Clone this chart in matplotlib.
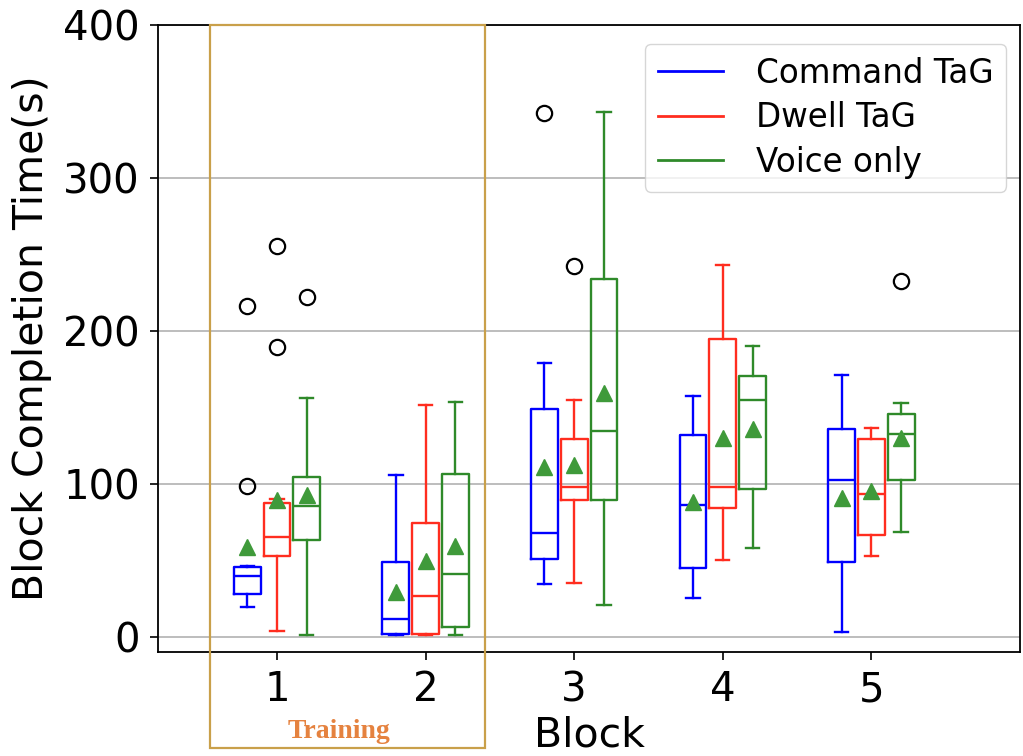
import matplotlib.pyplot as plt
from matplotlib.lines import Line2D
from matplotlib.patches import Rectangle
from matplotlib.transforms import blended_transform_factory

blocks = [1, 2, 3, 4, 5]
methods = ['Command TaG', 'Dwell TaG', 'Voice only']
colors = ['#0000ff', '#ff2d1f', '#2f8a2a']

# box stats per block: whisker low, q1, median, q3, whisker high, mean
cmd_lo = [19.7, 1.1, 34.2, 25.0, 3.2]
cmd_q1 = [27.8, 1.5, 50.6, 44.6, 48.7]
cmd_med = [39.4, 11.6, 67.9, 86.3, 102.4]
cmd_q3 = [45.5, 48.6, 148.8, 131.7, 135.5]
cmd_hi = [46.0, 105.5, 178.7, 157.2, 171.1]
cmd_mean = [58.6, 28.9, 111.2, 88.0, 90.8]
cmd_fliers = [[98.7, 216.0], [], [342.7], [], []]

dwell_lo = [3.4, 1.1, 34.8, 50.2, 52.7]
dwell_q1 = [52.5, 1.5, 89.4, 84.1, 66.2]
dwell_med = [64.9, 26.3, 97.8, 97.8, 93.5]
dwell_q3 = [87.4, 74.4, 129.2, 194.8, 129.0]
dwell_hi = [90.0, 151.4, 154.6, 243.0, 136.2]
dwell_mean = [89.5, 49.2, 112.4, 130.0, 95.2]
dwell_fliers = [[189.2, 255.3], [], [242.7], [], []]

voice_lo = [1.2, 1.1, 20.7, 58.3, 68.4]
voice_q1 = [62.9, 6.6, 89.4, 96.3, 102.4]
voice_med = [85.2, 41.1, 134.2, 154.6, 132.7]
voice_q3 = [104.1, 106.6, 234.2, 170.7, 145.4]
voice_hi = [155.8, 153.2, 343.4, 189.8, 152.8]
voice_mean = [92.6, 59.0, 159.1, 136.1, 129.7]
voice_fliers = [[222.1], [], [], [], [232.6]]

all_stats = [
    (cmd_lo, cmd_q1, cmd_med, cmd_q3, cmd_hi, cmd_mean, cmd_fliers),
    (dwell_lo, dwell_q1, dwell_med, dwell_q3, dwell_hi, dwell_mean, dwell_fliers),
    (voice_lo, voice_q1, voice_med, voice_q3, voice_hi, voice_mean, voice_fliers),
]
offsets = [-0.2, 0.0, 0.2]

fig = plt.figure(figsize=(10.23, 7.56), dpi=100)
ax = fig.add_axes([0.1545, 0.1376, 0.8426, 0.8294])

for (lo, q1, med, q3, hi, mean, fl), off, c in zip(all_stats, offsets, colors):
    stats = []
    for i in range(len(blocks)):
        stats.append(dict(whislo=lo[i], q1=q1[i], med=med[i], q3=q3[i],
                          whishi=hi[i], mean=mean[i], fliers=fl[i]))
    lp = dict(color=c, linewidth=1.7)
    ax.bxp(stats, positions=[b + off for b in blocks], widths=0.18,
           showmeans=True, boxprops=lp, whiskerprops=lp, capprops=lp,
           medianprops=lp,
           meanprops=dict(marker='^', markerfacecolor='#3f9a3a',
                          markeredgecolor='#3f9a3a', markersize=11),
           flierprops=dict(marker='o', markerfacecolor='none',
                           markeredgecolor='black', markersize=11,
                           markeredgewidth=1.6),
           manage_ticks=False, zorder=3)

ax.set_xlim(0.2, 6.0)
ax.set_ylim(-10, 400)
ax.set_xticks(blocks)
ax.set_xticklabels([str(b) for b in blocks])
ax.set_yticks([0, 100, 200, 300, 400])
ax.yaxis.grid(True, color='#b8b8b8', linewidth=1.3)
ax.set_axisbelow(True)
ax.tick_params(labelsize=29, length=6, width=1.2, pad=7)
for s in ax.spines.values():
    s.set_linewidth(1.3)

ax.set_xlabel('Block', fontsize=29.5, labelpad=4)
ax.set_ylabel('Block Completion Time(s)', fontsize=29.5, labelpad=8)

handles = [Line2D([], [], color=c, linewidth=2) for c in colors]
ax.legend(handles, methods, loc='upper right', fontsize=23.5,
          handlelength=2.0, handletextpad=1.0, borderpad=0.4,
          labelspacing=0.35, bbox_to_anchor=(1.003, 0.996))

# training blocks frame, reaching below the axis
trans = blended_transform_factory(ax.transData, fig.transFigure)
ax.add_patch(Rectangle((0.55, 1 - 748 / 756), 1.85, (748 - 25) / 756,
                       transform=trans, fill=False, edgecolor='#c9a04a',
                       linewidth=1.6, clip_on=False, zorder=5))
ax.text(1.42, 1 - 731 / 756, 'Training', transform=trans, ha='center',
        va='center', fontsize=20, fontweight='bold', color='#e5823f',
        family='Liberation Serif')

fig.savefig('out.png', dpi=100)
